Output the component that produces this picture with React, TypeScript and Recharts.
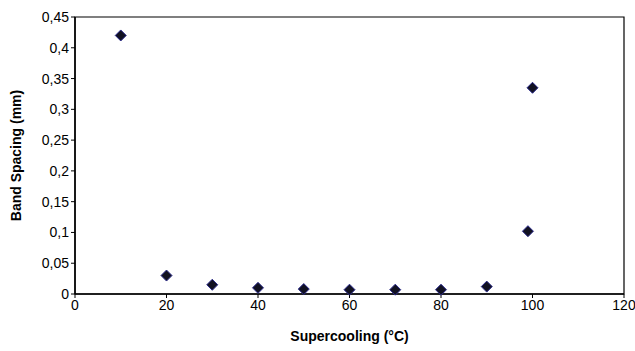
import { ScatterChart, Scatter, XAxis, YAxis, ReferenceArea } from 'recharts';

// Supercooling (°C) vs band spacing (mm)
const supercooling = [10, 20, 30, 40, 50, 60, 70, 80, 90, 99, 100];
const bandSpacing = [0.42, 0.03, 0.015, 0.01, 0.008, 0.007, 0.007, 0.007, 0.012, 0.102, 0.335];

const xTicks = [0, 20, 40, 60, 80, 100, 120];
const yTicks = [0, 0.05, 0.1, 0.15, 0.2, 0.25, 0.3, 0.35, 0.4, 0.45];

const data = supercooling.map((x, i) => ({ x, y: bandSpacing[i] }));

const fmt = (v: number) => String(v).replace('.', ',');

const Diamond = (props: any) => {
  const { cx, cy } = props;
  const r = 5.5;
  return (
    <polygon
      points={`${cx},${cy - r} ${cx + r},${cy} ${cx},${cy + r} ${cx - r},${cy}`}
      fill="#111122"
      stroke="#2b2b8c"
      strokeWidth={1}
    />
  );
};

const font = 'Liberation Sans, Arial, sans-serif';
const tickStyle = { fontSize: 14, fill: '#000', fontFamily: font };

export default function App() {
  return (
    <div style={{ position: 'absolute', left: 0, top: 0, background: '#fff' }}>
      <ScatterChart width={635} height={351} margin={{ top: 17, right: 11, left: 0, bottom: 0 }}>
        <XAxis
          type="number"
          dataKey="x"
          domain={[0, 120]}
          ticks={xTicks}
          tick={tickStyle}
          tickLine={{ stroke: '#000' }}
          tickSize={4}
          axisLine={{ stroke: '#000', strokeWidth: 1.5 }}
          height={57}
          label={{
            value: 'Supercooling (°C)',
            position: 'insideBottom',
            offset: 10,
            style: { fontSize: 14, fontWeight: 'bold', fill: '#000', fontFamily: font },
          }}
        />
        <YAxis
          type="number"
          dataKey="y"
          domain={[0, 0.45]}
          ticks={yTicks}
          tickFormatter={fmt}
          tick={tickStyle}
          tickLine={{ stroke: '#000' }}
          tickSize={4}
          axisLine={{ stroke: '#000', strokeWidth: 1.5 }}
          width={75}
          label={{
            value: 'Band Spacing (mm)',
            angle: -90,
            position: 'insideLeft',
            offset: 16,
            style: { textAnchor: 'middle', fontSize: 14, fontWeight: 'bold', fill: '#000', fontFamily: font },
          }}
        />
        <ReferenceArea x1={0} x2={120} y1={0} y2={0.45} fill="none" stroke="#000" strokeWidth={1.2} ifOverflow="visible" />
        <Scatter data={data} shape={<Diamond />} isAnimationActive={false} />
      </ScatterChart>
    </div>
  );
}
